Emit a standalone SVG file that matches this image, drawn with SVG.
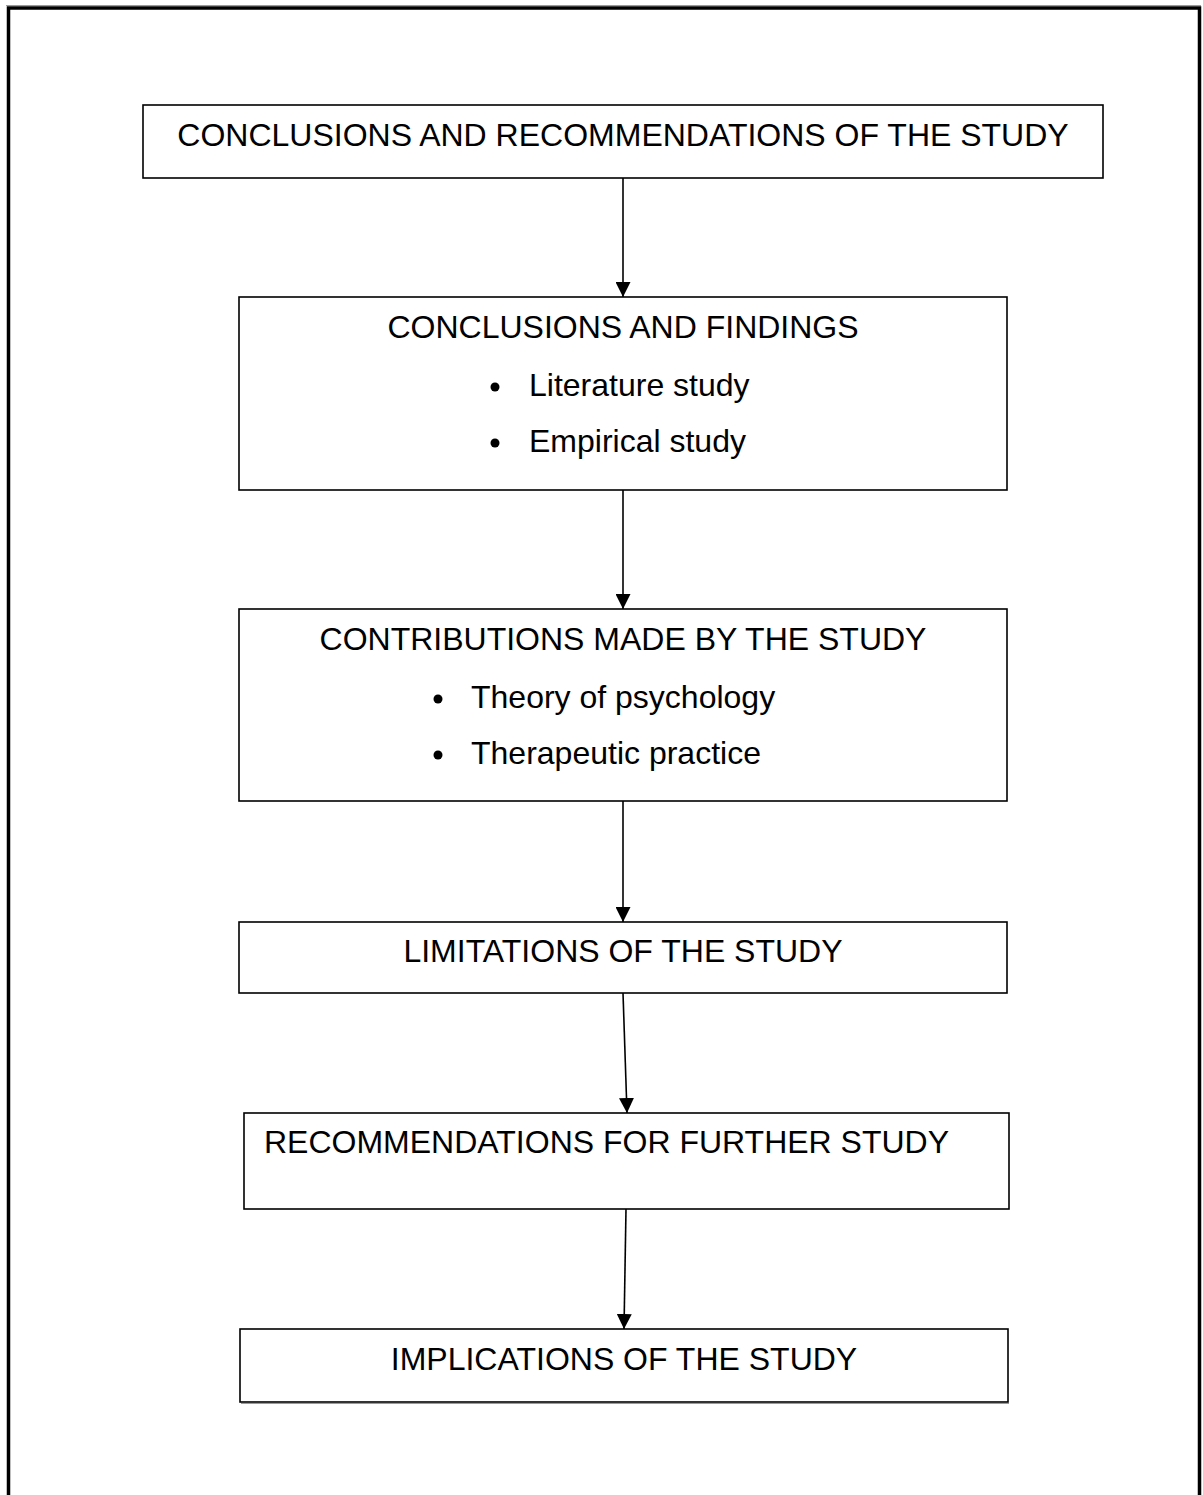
<svg xmlns="http://www.w3.org/2000/svg" width="1203" height="1495" viewBox="0 0 1203 1495">
  <style>
    .box { fill: #ffffff; stroke: #000000; stroke-width: 1.6; }
    .frame { fill: none; stroke: #000000; stroke-width: 3.5; }
    .lbl { font-family: "Liberation Sans", Arial, sans-serif; font-size: 32px; fill: #000000; }
    .mid { text-anchor: middle; }
    .conn { stroke: #000000; stroke-width: 1.6; fill: none; marker-end: url(#arrow); }
  </style>
  <defs>
    <marker id="arrow" markerUnits="userSpaceOnUse" markerWidth="16" markerHeight="15" refX="15" refY="7.5" orient="auto">
      <path d="M0,0 L15,7.5 L0,15 Z" fill="#000000"/>
    </marker>
  </defs>

  <rect width="1203" height="1495" fill="#ffffff"/>

  <!-- page frame (open at the bottom) -->
  <line x1="6" y1="5.5" x2="1201" y2="5.5" stroke="#9a9a9a" stroke-width="1"/>
  <path class="frame" d="M8.5,1495 L8.5,8 L1199.5,8 L1199.5,1495"/>

  <g id="connectors">
    <line class="conn" x1="623" y1="178" x2="623" y2="297"/>
    <line class="conn" x1="623" y1="490" x2="623" y2="609"/>
    <line class="conn" x1="623" y1="801" x2="623" y2="922"/>
    <line class="conn" x1="623" y1="993" x2="627" y2="1113"/>
    <line class="conn" x1="626" y1="1209" x2="624" y2="1329"/>
  </g>

  <g id="n-conclusions-recommendations">
    <rect class="box" x="143" y="105" width="960" height="73"/>
    <text class="lbl mid" x="623" y="146">CONCLUSIONS AND RECOMMENDATIONS OF THE STUDY</text>
  </g>

  <g id="n-conclusions-findings">
    <rect class="box" x="239" y="297" width="768" height="193"/>
    <text class="lbl mid" x="623" y="338">CONCLUSIONS AND FINDINGS</text>
    <circle cx="495" cy="387" r="4.5" fill="#000000"/>
    <text class="lbl" x="529" y="396">Literature study</text>
    <circle cx="495" cy="443" r="4.5" fill="#000000"/>
    <text class="lbl" x="529" y="452">Empirical study</text>
  </g>

  <g id="n-contributions">
    <rect class="box" x="239" y="609" width="768" height="192"/>
    <text class="lbl mid" x="623" y="650">CONTRIBUTIONS MADE BY THE STUDY</text>
    <circle cx="438" cy="699" r="4.5" fill="#000000"/>
    <text class="lbl" x="471" y="708">Theory of psychology</text>
    <circle cx="438" cy="755" r="4.5" fill="#000000"/>
    <text class="lbl" x="471" y="764">Therapeutic practice</text>
  </g>

  <g id="n-limitations">
    <rect class="box" x="239" y="922" width="768" height="71"/>
    <text class="lbl mid" x="623" y="962">LIMITATIONS OF THE STUDY</text>
  </g>

  <g id="n-recommendations-further">
    <rect class="box" x="244" y="1113" width="765" height="96"/>
    <text class="lbl" x="264" y="1153">RECOMMENDATIONS FOR FURTHER STUDY</text>
  </g>

  <g id="n-implications">
    <rect class="box" x="240" y="1329" width="768" height="73"/>
    <line x1="241" y1="1403.5" x2="1009" y2="1403.5" stroke="#9a9a9a" stroke-width="1"/>
    <text class="lbl mid" x="624" y="1370">IMPLICATIONS OF THE STUDY</text>
  </g>
</svg>
